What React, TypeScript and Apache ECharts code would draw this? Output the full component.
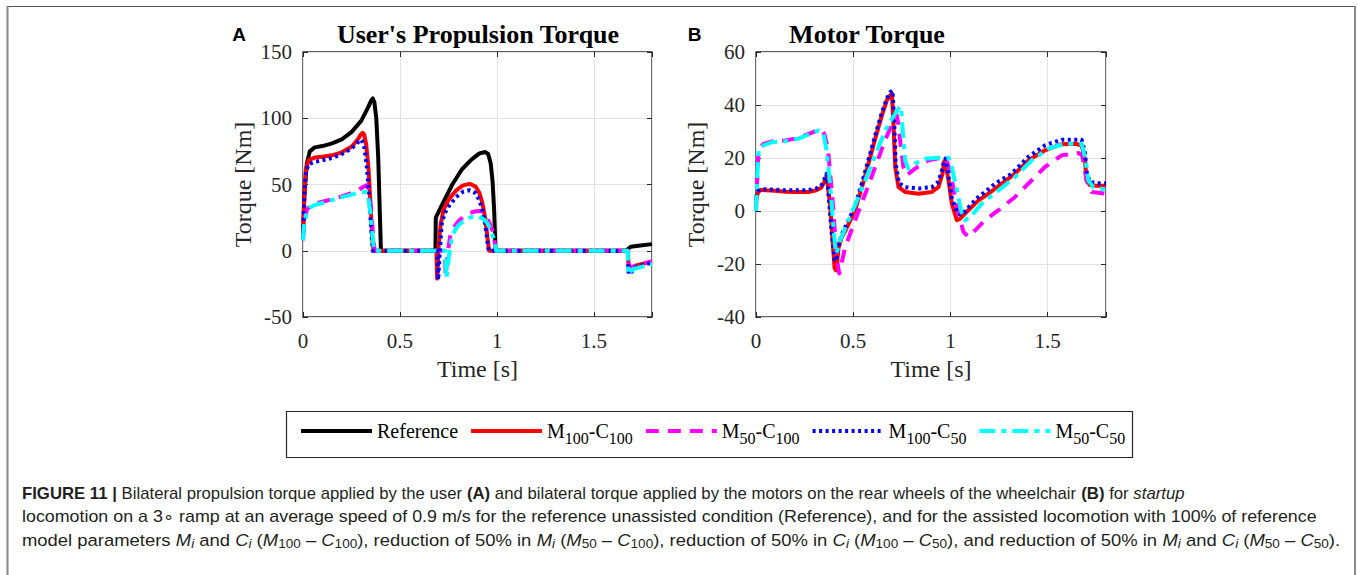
import React, { useEffect, useRef } from "react";
import * as echarts from "echarts";

// ---------- data ----------
const SERIES_NAMES = ["Reference", "M100-C100", "M50-C100", "M100-C50", "M50-C50"];
const X_TICKS = [0, 0.5, 1, 1.5];
const X_RANGE = [0, 1.8];
const Y_TICKS_A = [-50, 0, 50, 100, 150];
const Y_TICKS_B = [-40, -20, 0, 20, 40, 60];

// Panel A: user's propulsion torque [Nm] vs time [s]
const userReference = [
  [0, 12], [0.008, 45], [0.02, 66], [0.035, 75], [0.06, 78], [0.1, 79], [0.15, 81], [0.2, 84],
  [0.25, 89.5], [0.3, 98], [0.335, 108], [0.352, 113.5], [0.36, 115], [0.368, 112], [0.378, 100],
  [0.388, 70], [0.396, 30], [0.402, 0], [0.683, 0], [0.685, 25], [0.72, 35.5], [0.77, 50],
  [0.82, 61.5], [0.87, 69], [0.91, 73.5], [0.94, 74.5], [0.955, 73], [0.968, 66], [0.978, 52],
  [0.986, 30], [0.993, 0], [1.665, 0], [1.69, 3], [1.74, 4], [1.8, 5],
];
const userM100C100 = [
  [0, 10], [0.006, 40], [0.015, 62], [0.03, 68.5], [0.06, 70.3], [0.1, 71], [0.15, 72], [0.2, 74.3],
  [0.25, 78.5], [0.28, 83.5], [0.3, 88], [0.308, 89], [0.316, 87.5], [0.326, 80], [0.338, 62],
  [0.348, 35], [0.358, 8], [0.364, 0], [0.688, 0], [0.692, -21], [0.7, 5], [0.71, 20], [0.725, 31],
  [0.755, 39.5], [0.79, 45.5], [0.825, 49.3], [0.86, 50.5], [0.89, 48.5], [0.91, 43.5], [0.925, 36],
  [0.94, 24], [0.952, 9], [0.96, 0], [1.675, 0], [1.68, -14], [1.72, -11], [1.8, -8],
];
const userM50C100 = [
  [0, 8], [0.006, 22], [0.02, 31], [0.04, 34.5], [0.07, 36], [0.1, 37], [0.15, 39], [0.2, 41],
  [0.25, 43.5], [0.29, 46.5], [0.315, 48.5], [0.328, 49.5], [0.336, 47], [0.345, 40], [0.355, 25],
  [0.363, 8], [0.37, 0], [0.732, 0], [0.736, -19], [0.748, 0], [0.76, 12], [0.775, 17], [0.8, 22],
  [0.83, 26], [0.86, 28.5], [0.89, 29.8], [0.92, 30], [0.94, 27], [0.955, 23], [0.97, 18],
  [0.983, 13], [0.99, 5], [0.997, 0], [1.675, 0], [1.682, -13], [1.72, -11], [1.8, -8],
];
const userM100C50 = [
  [0, 8], [0.006, 38], [0.015, 60], [0.03, 65.5], [0.06, 67], [0.1, 68.3], [0.15, 70], [0.2, 73],
  [0.25, 77], [0.28, 81.5], [0.298, 84], [0.306, 82.5], [0.318, 77], [0.33, 62], [0.342, 40],
  [0.352, 15], [0.36, 0], [0.693, 0], [0.697, -22], [0.706, 0], [0.715, 20], [0.73, 28],
  [0.756, 34.5], [0.79, 40.5], [0.825, 44.5], [0.86, 45.7], [0.89, 43.5], [0.91, 38], [0.925, 31],
  [0.94, 20], [0.952, 6], [0.958, 0], [1.675, 0], [1.68, -18], [1.72, -12], [1.8, -9],
];
const userM50C50 = [
  [0, 8], [0.006, 20], [0.018, 28], [0.035, 32.5], [0.06, 34.5], [0.1, 36], [0.15, 38.3], [0.2, 40.5],
  [0.25, 42.3], [0.29, 44], [0.315, 44.5], [0.328, 44], [0.338, 39], [0.348, 28], [0.358, 12],
  [0.366, 0], [0.735, 0], [0.74, -21], [0.752, -5], [0.765, 8], [0.782, 15], [0.8, 19], [0.825, 22],
  [0.85, 24.5], [0.877, 25.8], [0.905, 25.8], [0.93, 24], [0.95, 21], [0.97, 15.5], [0.985, 8],
  [0.997, 0], [1.675, 0], [1.678, -18], [1.7, -14], [1.8, -10],
];

// Panel B: motor torque [Nm] vs time [s]
const motorM100C100 = [
  [0, 4], [0.01, 7], [0.025, 8], [0.05, 7.8], [0.1, 7.6], [0.15, 7.3], [0.2, 7.2], [0.27, 7.2],
  [0.31, 7.8], [0.335, 8.8], [0.352, 11], [0.365, 13], [0.372, 8], [0.382, 1.5], [0.394, -11],
  [0.404, -21.5], [0.411, -22.4], [0.418, -19], [0.425, -13.6], [0.442, -9.8], [0.476, -5],
  [0.51, 0.5], [0.545, 9], [0.579, 18], [0.613, 27.3], [0.647, 36], [0.673, 41.8], [0.69, 43.6],
  [0.699, 44.3], [0.707, 33], [0.716, 16.6], [0.733, 9], [0.767, 7.2], [0.836, 6.5], [0.904, 7.2],
  [0.938, 9], [0.959, 14], [0.967, 18.5], [0.973, 19.1], [0.99, 11.6], [1.007, 2.8], [1.033, -3.5],
  [1.05, -2.9], [1.092, 0.3], [1.144, 4], [1.195, 6.5], [1.264, 10.3], [1.332, 14.1], [1.401, 19.1],
  [1.486, 22.9], [1.572, 25.2], [1.64, 25.4], [1.675, 24.8], [1.692, 19], [1.7, 11.6], [1.717, 9.8],
  [1.75, 9.5], [1.8, 9.5],
];
const motorM50C100 = [
  [0, 0], [0.008, 16], [0.014, 23.5], [0.039, 25.3], [0.082, 26.3], [0.151, 26.6], [0.219, 27.6],
  [0.288, 29.6], [0.322, 30.6], [0.338, 30.5], [0.352, 29], [0.365, 25], [0.373, 21], [0.394, 4],
  [0.411, -13.6], [0.422, -21], [0.428, -23.6], [0.436, -21], [0.459, -13.6], [0.51, -3.5],
  [0.562, 6.5], [0.613, 16.6], [0.664, 26.7], [0.707, 34.2], [0.724, 36.1], [0.732, 33],
  [0.741, 26.7], [0.758, 16.6], [0.776, 13.5], [0.818, 16], [0.887, 19.1], [0.955, 20.1],
  [0.981, 19.1], [1.007, 11.6], [1.041, -1], [1.067, -7.9], [1.092, -9.8], [1.127, -7.3],
  [1.178, -3.5], [1.247, 0.3], [1.332, 5.3], [1.418, 11.6], [1.486, 16.6], [1.572, 21],
  [1.658, 21.9], [1.678, 21], [1.7, 11.6], [1.726, 7.2], [1.8, 6.5],
];
const motorM100C50 = [
  [0, 5], [0.01, 7.5], [0.025, 8.3], [0.05, 8.2], [0.1, 8], [0.15, 7.8], [0.2, 7.8], [0.27, 7.9],
  [0.31, 8.5], [0.335, 9.5], [0.352, 12], [0.362, 14], [0.37, 9], [0.382, -2], [0.394, -12],
  [0.405, -18.5], [0.412, -19], [0.422, -14], [0.44, -9], [0.476, -3.5], [0.51, 2], [0.545, 10.5],
  [0.579, 19.5], [0.613, 28.5], [0.647, 37], [0.673, 42.5], [0.69, 44.8], [0.702, 45.5], [0.71, 35],
  [0.718, 18], [0.735, 10.5], [0.767, 9], [0.836, 8.5], [0.904, 9], [0.938, 11], [0.959, 16],
  [0.967, 19], [0.975, 19.8], [0.99, 13], [1.007, 5], [1.033, -0.5], [1.058, -1.6], [1.1, 2],
  [1.144, 5.3], [1.2, 8.5], [1.229, 10.3], [1.315, 14.1], [1.4, 20.4], [1.486, 24.8], [1.572, 26.9],
  [1.675, 26.9], [1.692, 22], [1.702, 14], [1.717, 11], [1.75, 10.5], [1.8, 10.5],
];
const motorM50C50 = [
  [0, 0], [0.008, 15], [0.014, 22.9], [0.039, 24.8], [0.082, 26], [0.151, 26.3], [0.219, 27.3],
  [0.288, 29.4], [0.322, 30.4], [0.338, 30], [0.348, 28.6], [0.36, 24], [0.37, 18], [0.387, 5],
  [0.399, -7], [0.411, -16.1], [0.418, -15], [0.433, -11], [0.476, -3.5], [0.527, 5.3],
  [0.579, 14.7], [0.63, 24.2], [0.682, 33], [0.716, 36.7], [0.741, 39.5], [0.748, 37], [0.755, 30],
  [0.767, 19], [0.784, 16], [0.818, 17.9], [0.87, 19.7], [0.938, 20.1], [0.99, 20.1], [1.007, 16.6],
  [1.033, 7.8], [1.058, -1], [1.075, -3.5], [1.11, -1.6], [1.161, 2.8], [1.247, 7.8], [1.332, 12.8],
  [1.418, 19.1], [1.503, 23.5], [1.589, 25.4], [1.675, 25.4], [1.692, 20.4], [1.709, 11.6],
  [1.735, 9], [1.8, 8],
];

// ---------- styles ----------
const SERIF = "Liberation Serif";
const SANS = "Liberation Sans";
const AXIS_COLOR = "#262626";
const GRID_COLOR = "#e2e2e2";

const LINE_STYLES: Record<string, any> = {
  "Reference": { color: "#000000", width: 4, type: "solid" },
  "M100-C100": { color: "#ff0000", width: 4, type: "solid" },
  "M50-C100": { color: "#ff00ff", width: 4, type: [13, 9] },
  "M100-C50": { color: "#0000ff", width: 4, type: [3, 3.5] },
  "M50-C50": { color: "#00ffff", width: 4, type: [16, 6, 5, 6] },
};

function xLabel(v: number) {
  const r = Math.round(v * 2) / 2;
  return Math.abs(v - r) < 1e-9 && X_TICKS.indexOf(r) >= 0 ? String(r) : "";
}

function makeXAxes(gridIndex: number) {
  const interval = X_TICKS[1] - X_TICKS[0];
  return [
    {
      gridIndex, type: "value", position: "bottom", min: X_RANGE[0], max: X_RANGE[1], interval,
      axisLine: { show: false, onZero: false },
      axisTick: { inside: true, length: 5, lineStyle: { color: AXIS_COLOR, width: 1 } },
      axisLabel: { fontFamily: SERIF, fontSize: 21, color: AXIS_COLOR, margin: 13, formatter: xLabel },
      splitLine: { show: true, lineStyle: { color: GRID_COLOR, width: 1 } },
      name: "Time [s]", nameLocation: "middle", nameGap: 40,
      nameTextStyle: { fontFamily: SERIF, fontSize: 24, color: AXIS_COLOR },
    },
    {
      gridIndex, type: "value", position: "top", min: X_RANGE[0], max: X_RANGE[1], interval,
      axisLine: { show: false, onZero: false },
      axisTick: { inside: true, length: 5, lineStyle: { color: AXIS_COLOR, width: 1 } },
      axisLabel: { show: false }, splitLine: { show: false },
    },
  ];
}

function makeYAxes(gridIndex: number, ticks: number[]) {
  const interval = ticks[1] - ticks[0];
  const min = ticks[0];
  const max = ticks[ticks.length - 1];
  return [
    {
      gridIndex, type: "value", position: "left", min, max, interval,
      axisLine: { show: false, onZero: false },
      axisTick: { inside: true, length: 5, lineStyle: { color: AXIS_COLOR, width: 1 } },
      axisLabel: { fontFamily: SERIF, fontSize: 21, color: AXIS_COLOR, margin: 11 },
      splitLine: { show: true, lineStyle: { color: GRID_COLOR, width: 1 } },
      name: "Torque [Nm]", nameLocation: "middle", nameGap: 48,
      nameTextStyle: { fontFamily: SERIF, fontSize: 24, color: AXIS_COLOR },
    },
    {
      gridIndex, type: "value", position: "right", min, max, interval,
      axisLine: { show: false, onZero: false },
      axisTick: { inside: true, length: 5, lineStyle: { color: AXIS_COLOR, width: 1 } },
      axisLabel: { show: false }, splitLine: { show: false },
    },
  ];
}

function makeSeries(name: string, data: number[][], gridIndex: number) {
  const st = LINE_STYLES[name];
  return {
    type: "line", name, data,
    xAxisIndex: gridIndex * 2, yAxisIndex: gridIndex * 2,
    showSymbol: false, symbol: "none", color: st.color,
    lineStyle: { color: st.color, width: st.width, type: st.type, cap: "butt", join: "round" },
    emphasis: { disabled: true }, silent: true,
  };
}

function legendFormatter(name: string) {
  const m = /^M(\d+)-C(\d+)$/.exec(name);
  if (!m) return "{r|" + name + "}";
  return "{r|M}{s|" + m[1] + "}{r|-C}{s|" + m[2] + "}";
}

const capFill = "#231f20";
const capSize = 17;
const capBase = { fontFamily: SANS, fontSize: capSize, fill: capFill, lineHeight: 20 };
const capRich = {
  b: { ...capBase, fontWeight: "bold" },
  i: { ...capBase, fontStyle: "italic" },
  s: { fontFamily: SANS, fontSize: 12.5, fill: capFill, lineHeight: 12.5, verticalAlign: "bottom" },
  si: { fontFamily: SANS, fontSize: 12.5, fontStyle: "italic", fill: capFill, lineHeight: 12.5, verticalAlign: "bottom" },
};
const CAPTION_LINES = [
  "{b|FIGURE 11 |} Bilateral propulsion torque applied by the user {b|(A)} and bilateral torque applied by the motors on the rear wheels of the wheelchair {b|(B)} for {i|startup}",
  "locomotion on a 3\u2218 ramp at an average speed of 0.9 m/s for the reference unassisted condition (Reference), and for the assisted locomotion with 100% of reference",
  "model parameters {i|M}{si|i} and {i|C}{si|i} ({i|M}{s|100} \u2013 {i|C}{s|100}), reduction of 50% in {i|M}{si|i} ({i|M}{s|50} \u2013 {i|C}{s|100}), reduction of 50% in {i|C}{si|i} ({i|M}{s|100} \u2013 {i|C}{s|50}), and reduction of 50% in {i|M}{si|i} and {i|C}{si|i} ({i|M}{s|50} \u2013 {i|C}{s|50}).",
];
// horizontal stretch per caption line so each line ends where the reference does
const CAPTION_SCALE = [0.985, 1.05, 1.085];

export default function App() {
  const ref = useRef<HTMLDivElement>(null);
  useEffect(() => {
    if (!ref.current) return;
    const chart = echarts.init(ref.current, null, { renderer: "svg" });
    const option: any = {
      animation: false,
      backgroundColor: "#ffffff",
      grid: [
        { left: 303, top: 52, width: 349, height: 265, show: true, borderColor: AXIS_COLOR, borderWidth: 1.3, backgroundColor: "transparent" },
        { left: 756, top: 52, width: 350, height: 265, show: true, borderColor: AXIS_COLOR, borderWidth: 1.3, backgroundColor: "transparent" },
      ],
      xAxis: [...makeXAxes(0), ...makeXAxes(1)],
      yAxis: [...makeYAxes(0, Y_TICKS_A), ...makeYAxes(1, Y_TICKS_B)],
      legend: {
        data: SERIES_NAMES,
        left: 299, top: 421,
        itemWidth: 71, itemHeight: 14, itemGap: 11,
        padding: 0,
        selectedMode: false,
        lineStyle: { width: 4 },
        itemStyle: { opacity: 0, borderWidth: 0 },
        formatter: legendFormatter,
        textStyle: {
          fontFamily: SERIF, fontSize: 20, color: "#000",
          rich: {
            r: { fontFamily: SERIF, fontSize: 20, color: "#000", lineHeight: 30 },
            s: { fontFamily: SERIF, fontSize: 16, color: "#000", lineHeight: 16, verticalAlign: "bottom" },
          },
        },
      },
      series: [
        makeSeries("Reference", userReference, 0),
        makeSeries("M100-C100", userM100C100, 0),
        makeSeries("M50-C100", userM50C100, 0),
        makeSeries("M100-C50", userM100C50, 0),
        makeSeries("M50-C50", userM50C50, 0),
        makeSeries("M100-C100", motorM100C100, 1),
        makeSeries("M50-C100", motorM50C100, 1),
        makeSeries("M100-C50", motorM100C50, 1),
        makeSeries("M50-C50", motorM50C50, 1),
      ],
      graphic: [
        { type: "line", silent: true, shape: { x1: 7, y1: 6.5, x2: 1356, y2: 6.5 }, style: { stroke: "#555", lineWidth: 1 } },
        { type: "line", silent: true, shape: { x1: 7.5, y1: 6, x2: 7.5, y2: 576 }, style: { stroke: "#888", lineWidth: 2 } },
        { type: "line", silent: true, shape: { x1: 1355, y1: 6, x2: 1355, y2: 576 }, style: { stroke: "#888", lineWidth: 2 } },
        { type: "rect", silent: true, shape: { x: 286.5, y: 411.5, width: 846, height: 46 }, style: { fill: "none", stroke: AXIS_COLOR, lineWidth: 1.2 } },
        { type: "text", silent: true, x: 239, y: 34, style: { text: "A", fontFamily: SANS, fontWeight: "bold", fontSize: 19, fill: "#000", align: "center", verticalAlign: "middle" } },
        { type: "text", silent: true, x: 694.5, y: 34, style: { text: "B", fontFamily: SANS, fontWeight: "bold", fontSize: 19, fill: "#000", align: "center", verticalAlign: "middle" } },
        { type: "text", silent: true, x: 478, y: 34, style: { text: "User's Propulsion Torque", fontFamily: SERIF, fontWeight: "bold", fontSize: 26, fill: "#000", align: "center", verticalAlign: "middle" } },
        { type: "text", silent: true, x: 867, y: 34, style: { text: "Motor Torque", fontFamily: SERIF, fontWeight: "bold", fontSize: 26, fill: "#000", align: "center", verticalAlign: "middle" } },
        ...CAPTION_LINES.map((t, i) => ({
          type: "text", silent: true, x: 22, y: 493 + i * 23.5, scaleX: CAPTION_SCALE[i],
          style: { text: t, ...capBase, align: "left", verticalAlign: "middle", rich: capRich },
        })),
      ],
    };
    chart.setOption(option);
    return () => chart.dispose();
  }, []);
  return (
    <div
      ref={ref}
      style={{ position: "absolute", left: 0, top: 0, width: 1358, height: 575, background: "#fff" }}
    />
  );
}
